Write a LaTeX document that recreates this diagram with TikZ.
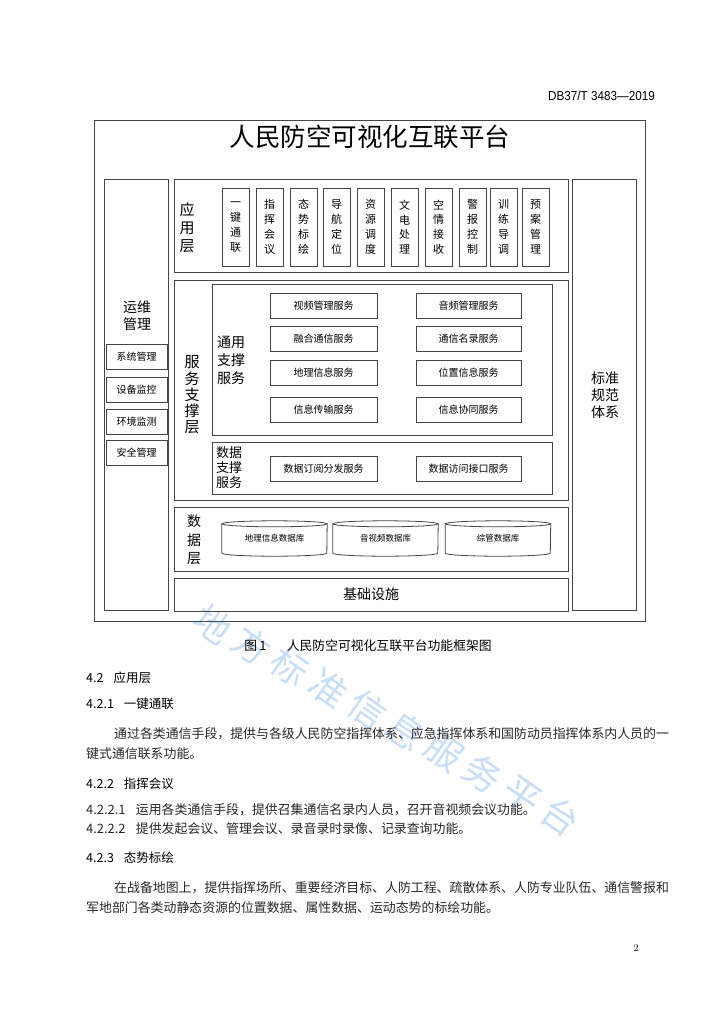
\documentclass[tikz,border=0pt]{standalone}
\usepackage{fontspec}
\newfontfamily\cjk{Noto Sans CJK SC}
\newfontfamily\lat{Liberation Sans}
\newcommand\myfs[2]{\fontsize{#1}{#2}\selectfont}
\definecolor{wm}{RGB}{200,222,246}
\definecolor{ln}{RGB}{70,70,70}
\definecolor{body}{RGB}{40,40,40}
\tikzset{
  frm/.style={draw=ln, line width=0.8pt, inner sep=0pt},
  sbox/.style={frm, minimum height=25pt, font=\cjk\myfs{10}{12}},
  appbox/.style={frm, minimum width=27pt, minimum height=78pt, align=center, font=\cjk\myfs{11}{14.8}},
  vlab/.style={align=center, inner sep=0pt},
  para/.style={anchor=west, inner sep=0pt, text=body, font=\cjk\myfs{12.9}{14}},
  head/.style={anchor=west, inner sep=0pt, font=\cjk\myfs{12.5}{14}},
}
\begin{document}
\begin{tikzpicture}[x=1pt,y=-1pt, every node/.style={font=\cjk}]
\useasboundingbox[fill=white] (0,0) rectangle (724,1024);

% watermark
\foreach \c [count=\i from 0] in {地,方,标,准,信,息,服,务,平,台}
  \node[text=wm, rotate=-35, inner sep=0pt, font=\cjk\myfs{37}{37}] (wm\i) at ({213+38.6*\i},{624+21.4*\i}) {\c};

% header
\node[anchor=east, inner sep=0pt, font=\lat\myfs{13}{13}] (hdr) at (655,96) {\scalebox{0.9}[1]{DB37/T 3483—2019}};

% frames
\node[frm, minimum width=551pt, minimum height=501pt] (outer) at (369.5,370.5) {};
\node[frm, minimum width=64pt, minimum height=431pt] (left) at (136,395) {};
\node[frm, minimum width=64pt, minimum height=431pt] (right) at (604.5,395) {};
\node[frm, minimum width=394pt, minimum height=93pt] (app) at (371,226) {};
\node[frm, minimum width=394pt, minimum height=220pt] (svc) at (371,390) {};
\node[frm, minimum width=340pt, minimum height=151pt] (gen) at (382.5,360) {};
\node[frm, minimum width=340pt, minimum height=52pt] (dat) at (382.5,468) {};
\node[frm, minimum width=394pt, minimum height=64pt] (datal) at (371,539) {};
\node[frm, minimum width=394pt, minimum height=33pt, font=\cjk\myfs{14}{14}] (infra) at (371,594.5) {基础设施};

% title
\node[inner sep=0pt, font=\cjk\myfs{25.5}{25.5}] (title) at (370,137) {人民防空可视化互联平台};

% side labels
\node[vlab, font=\cjk\myfs{14}{17}] (ywl) at (137,316) {运维\\管理};
\node[vlab, font=\cjk\myfs{14}{17}] (bzl) at (605,395) {标准\\规范\\体系};
\node[vlab, font=\cjk\myfs{15}{18}] (appl) at (187,228) {应\\用\\层};
\node[vlab, font=\cjk\myfs{15}{16.3}] (svcl) at (192,395) {服\\务\\支\\撑\\层};
\node[vlab, font=\cjk\myfs{14}{18}] (genl) at (231,360) {通用\\支撑\\服务};
\node[vlab, font=\cjk\myfs{13}{15.3}] (datl) at (229,467.5) {数据\\支撑\\服务};
\node[vlab, font=\cjk\myfs{14}{18.3}] (dlab) at (194,540) {数\\据\\层};

% left column boxes
\node[sbox, minimum width=61pt] (m1) at (136.5,357) {系统管理};
\node[sbox, minimum width=61pt] (m2) at (136.5,390) {设备监控};
\node[sbox, minimum width=61pt] (m3) at (136.5,422) {环境监测};
\node[sbox, minimum width=61pt] (m4) at (136.5,453) {安全管理};

% application boxes
\foreach \xl/\t [count=\i] in {222/一\\键\\通\\联, 256/指\\挥\\会\\议, 290/态\\势\\标\\绘, 323/导\\航\\定\\位, 357/资\\源\\调\\度, 391/文\\电\\处\\理, 425/空\\情\\接\\收, 459/警\\报\\控\\制, 490/训\\练\\导\\调, 522/预\\案\\管\\理}
  \node[appbox] (a\i) at ({\xl+13.5},227) {\t};

% service boxes
\node[sbox, minimum width=107pt] (s1) at (323.5,305.5) {视频管理服务};
\node[sbox, minimum width=105pt] (s2) at (468.5,305.5) {音频管理服务};
\node[sbox, minimum width=107pt] (s3) at (323.5,339) {融合通信服务};
\node[sbox, minimum width=105pt] (s4) at (468.5,339) {通信名录服务};
\node[sbox, minimum width=107pt] (s5) at (323.5,373) {地理信息服务};
\node[sbox, minimum width=105pt] (s6) at (468.5,373) {位置信息服务};
\node[sbox, minimum width=107pt] (s7) at (323.5,410) {信息传输服务};
\node[sbox, minimum width=105pt] (s8) at (468.5,410) {信息协同服务};
\node[sbox, minimum width=107pt] (d1) at (323.5,468.5) {数据订阅分发服务};
\node[sbox, minimum width=105pt] (d2) at (468.5,468.5) {数据访问接口服务};

% databases
\foreach \cx/\t [count=\i] in {274.5/地理信息数据库, 385.5/音视频数据库, 498/综管数据库}{
  \node[inner sep=0pt, minimum width=105pt, minimum height=29pt, font=\cjk\myfs{8.5}{10}] (db\i) at (\cx,538.5) {\t};
  \draw[ln, line width=0.8pt] (db\i.north west) -- (db\i.south west) arc(180:0:52.5 and 3) -- (db\i.north east);
  \draw[ln, line width=0.8pt] (db\i.north) ellipse (52.5 and 3);
}

% caption and text
\node[inner sep=0pt, font=\cjk\myfs{12.8}{13}] (cap) at (368,646) {图\,1\hspace{1.6em}人民防空可视化互联平台功能框架图};
\node[head] (h42) at (86,678) {4.2\hspace{0.8em}应用层};
\node[head] (h421) at (86,704) {4.2.1\hspace{0.8em}一键通联};
\node[para] (p1) at (114,734) {通过各类通信手段，提供与各级人民防空指挥体系、应急指挥体系和国防动员指挥体系内人员的一};
\node[para] (p2) at (86,754) {键式通信联系功能。};
\node[head] (h422) at (86,784) {4.2.2\hspace{0.8em}指挥会议};
\node[para] (p3) at (86,810) {4.2.2.1\hspace{0.8em}运用各类通信手段，提供召集通信名录内人员，召开音视频会议功能。};
\node[para] (p4) at (86,829) {4.2.2.2\hspace{0.8em}提供发起会议、管理会议、录音录时录像、记录查询功能。};
\node[head] (h423) at (86,858) {4.2.3\hspace{0.8em}态势标绘};
\node[para] (p5) at (114,888) {在战备地图上，提供指挥场所、重要经济目标、人防工程、疏散体系、人防专业队伍、通信警报和};
\node[para] (p6) at (86,908) {军地部门各类动静态资源的位置数据、属性数据、运动态势的标绘功能。};
\node[inner sep=0pt, font=\rmfamily\myfs{10}{10}] (pg) at (636,948) {2};
\end{tikzpicture}
\end{document}
